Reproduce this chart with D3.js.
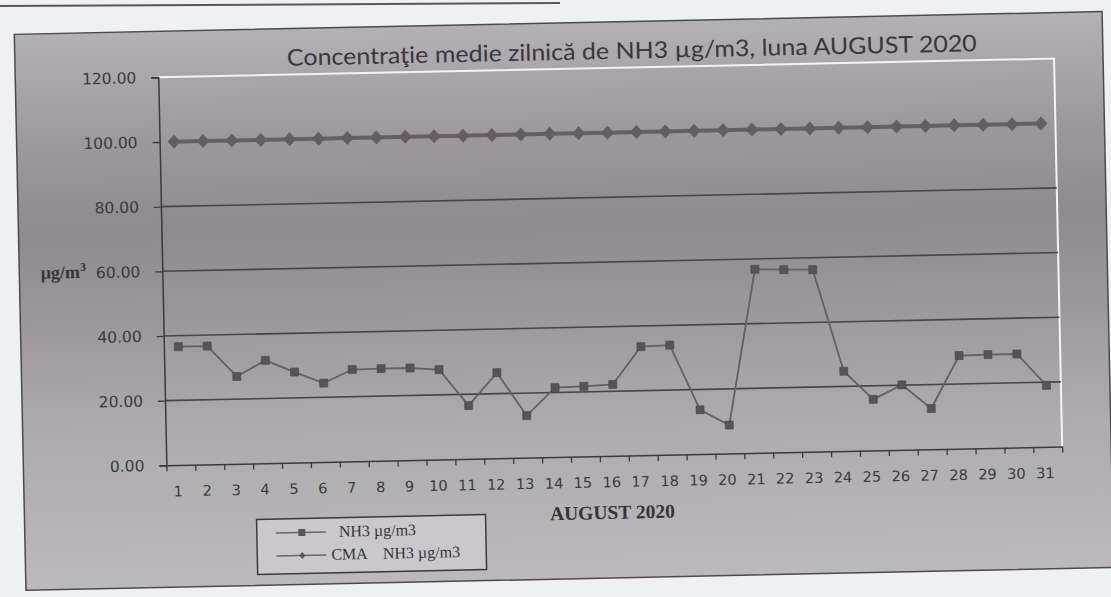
<!DOCTYPE html>
<html>
<head>
<meta charset="utf-8">
<script src="https://cdnjs.cloudflare.com/ajax/libs/d3/7.8.5/d3.min.js"></script>
<style>
  body { margin: 0; background: #eef0f3; }
  svg { display: block; }
</style>
</head>
<body>
<svg id="chart" width="1111" height="597"></svg>
<script>
// Data (August 2020, daily mean NH3)
const days = ["1","2","3","4","5","6","7","8","9","10","11","12","13","14","15","16",
              "17","18","19","20","21","22","23","24","25","26","27","28","29","30","31"];
const nh3 = [36.6, 36.6, 27.0, 31.8, 28.0, 24.4, 28.4, 28.5, 28.5, 27.8, 16.5, 26.5, 13.0, 21.5, 21.7, 22.1,
             33.6, 33.9, 13.7, 8.8, 56.8, 56.5, 56.3, 24.7, 15.8, 20.1, 12.6, 28.8, 28.9, 28.9, 19.0];
const cma = [100, 100, 100, 100, 100, 100, 100, 100, 100, 100, 100, 100, 100, 100, 100, 100,
             100, 100, 100, 100, 100, 100, 100, 100, 100, 100, 100, 100, 100, 100, 100];
const yTicks = [0, 20, 40, 60, 80, 100, 120];
const gridTicks = [20, 40, 60, 80];

const titleText = "Concentraţie medie zilnică de NH3 µg/m3, luna AUGUST 2020";
const legendLabels = ["NH3 µg/m3", "CMA    NH3 µg/m3"];

// Plot geometry (before the scan tilt is applied)
const plot = { left: 163, right: 1059, top: 69, bottom: 457 };
const ink = "#3d383c";

const svg = d3.select("#chart");

// faint rule of the previous page element at the very top
svg.append("line")
    .attr("x1", 0).attr("y1", 6).attr("x2", 560).attr("y2", 3)
    .attr("stroke", "#5a5558").attr("stroke-width", 2);

const defs = svg.append("defs");
const grad = defs.append("linearGradient")
    .attr("id", "bg").attr("x1", 0).attr("y1", 0).attr("x2", 0).attr("y2", 1);
[[0, "#b4b1b6"], [0.2, "#9c989d"], [0.36, "#8e8a8f"], [0.52, "#9b979c"],
 [0.72, "#aeabaf"], [1, "#bbb9bd"]].forEach(s => {
    grad.append("stop").attr("offset", s[0]).attr("stop-color", s[1]);
});

// the whole scan is tilted slightly counter-clockwise
const g = svg.append("g").attr("transform", "rotate(-1.2, 560, 300)");

g.append("rect")
    .attr("x", 20).attr("y", 23).attr("width", 1088).attr("height", 556)
    .attr("fill", "url(#bg)")
    .attr("stroke", "#4e494c").attr("stroke-width", 1.5);

// Scales
const x = d3.scaleBand().domain(days).range([plot.left, plot.right]).padding(0);
const xEdge = d3.scaleLinear().domain([0, days.length]).range([plot.left, plot.right]);
const y = d3.scaleLinear().domain([0, 120]).range([plot.bottom, plot.top]);
const cx = d => x(d) + x.bandwidth() / 2;

// Plot border: white on top and right
g.append("path")
    .attr("d", `M${plot.left},${plot.top}H${plot.right}V${plot.bottom}`)
    .attr("fill", "none").attr("stroke", "#f4f4f6").attr("stroke-width", 2);

// Gridlines
g.append("g").selectAll("line")
    .data(gridTicks)
    .join("line")
    .attr("x1", plot.left).attr("x2", plot.right)
    .attr("y1", d => y(d)).attr("y2", d => y(d))
    .attr("stroke", "#4a4347").attr("stroke-width", 1.6);

// Y axis
const yAxis = g.append("g")
    .attr("transform", `translate(${plot.left},0)`)
    .call(d3.axisLeft(y).tickValues(yTicks).tickFormat(d3.format(".2f")).tickSize(7).tickPadding(15));
yAxis.select(".domain").attr("stroke", "#3e383c").attr("stroke-width", 1.5);
yAxis.selectAll(".tick line").attr("stroke", "#3e383c").attr("stroke-width", 1.3);
yAxis.selectAll("text")
    .attr("fill", ink).attr("font-family", "DejaVu Sans").attr("font-size", 15.5);

// X axis: ticks between categories, labels under categories
const xTickAxis = g.append("g")
    .attr("transform", `translate(0,${plot.bottom})`)
    .call(d3.axisBottom(xEdge).tickValues(d3.range(0, days.length + 1)).tickFormat("").tickSize(6).tickSizeOuter(0));
xTickAxis.select(".domain").attr("stroke", "#3e383c").attr("stroke-width", 1.5);
xTickAxis.selectAll(".tick line").attr("stroke", "#3e383c").attr("stroke-width", 1.3);

const xLabelAxis = g.append("g")
    .attr("transform", `translate(-3,${plot.bottom})`)
    .call(d3.axisBottom(x).tickSize(0).tickPadding(21));
xLabelAxis.select(".domain").remove();
xLabelAxis.selectAll("text")
    .attr("fill", ink).attr("font-family", "DejaVu Sans").attr("font-size", 14.5);

// CMA line with diamonds
g.append("path")
    .datum(cma)
    .attr("fill", "none").attr("stroke", "#675f65").attr("stroke-width", 4)
    .attr("d", d3.line().x((d, i) => cx(days[i])).y(d => y(d)));
g.append("g").selectAll("path")
    .data(cma)
    .join("path")
    .attr("transform", (d, i) => `translate(${cx(days[i])},${y(d)})`)
    .attr("d", "M0,-7L6.5,0L0,7L-6.5,0Z")
    .attr("fill", "#655d63");

// NH3 line with squares
g.append("path")
    .datum(nh3)
    .attr("fill", "none").attr("stroke", "#665e63").attr("stroke-width", 1.8)
    .attr("d", d3.line().x((d, i) => cx(days[i])).y(d => y(d)));
g.append("g").selectAll("rect")
    .data(nh3)
    .join("rect")
    .attr("x", (d, i) => cx(days[i]) - 4).attr("y", d => y(d) - 4)
    .attr("width", 8).attr("height", 8)
    .attr("fill", "#5a5257").attr("stroke", "#4a4347").attr("stroke-width", 0.6);

// Title
g.append("text")
    .attr("x", 637).attr("y", 60)
    .attr("text-anchor", "middle")
    .attr("font-family", "Lato").attr("font-size", 23)
    .attr("textLength", 690).attr("lengthAdjust", "spacingAndGlyphs")
    .attr("fill", "#3b363a")
    .text(titleText);

// Axis titles
g.append("text")
    .attr("x", 64).attr("y", 268)
    .attr("text-anchor", "middle")
    .attr("font-family", "Liberation Serif").attr("font-weight", "bold").attr("font-size", 18)
    .attr("fill", "#38323a")
    .html("µg/m<tspan dy='-7' font-size='12'>3</tspan>");

g.append("text")
    .attr("x", 608).attr("y", 520)
    .attr("text-anchor", "middle")
    .attr("font-family", "Liberation Serif").attr("font-weight", "bold").attr("font-size", 19.5)
    .attr("fill", "#38323a")
    .text("AUGUST 2020");

// Legend
const legend = g.append("g");
legend.append("rect")
    .attr("x", 252).attr("y", 513).attr("width", 229).attr("height", 55)
    .attr("fill", "#cac8cc").attr("stroke", "#3e383c").attr("stroke-width", 1.5);

const rows = legend.selectAll("g.row")
    .data(legendLabels)
    .join("g")
    .attr("class", "row")
    .attr("transform", (d, i) => `translate(0,${527 + i * 23})`);
rows.append("line")
    .attr("x1", 271).attr("x2", 321).attr("y1", 0).attr("y2", 0)
    .attr("stroke", "#6b6468").attr("stroke-width", 1.6);
rows.append("path")
    .attr("transform", "translate(297,0)")
    .attr("d", (d, i) => i === 0 ? "M-3.5,-3.5H3.5V3.5H-3.5Z" : "M0,-3.5L3,0L0,3.5L-3,0Z")
    .attr("fill", "#5a5257");
rows.append("text")
    .attr("x", (d, i) => i === 0 ? 334 : 326)
    .attr("y", 5)
    .attr("font-family", "Liberation Serif").attr("font-size", 16)
    .attr("fill", "#38323a")
    .attr("xml:space", "preserve")
    .style("white-space", "pre")
    .text(d => d);
</script>
</body>
</html>
